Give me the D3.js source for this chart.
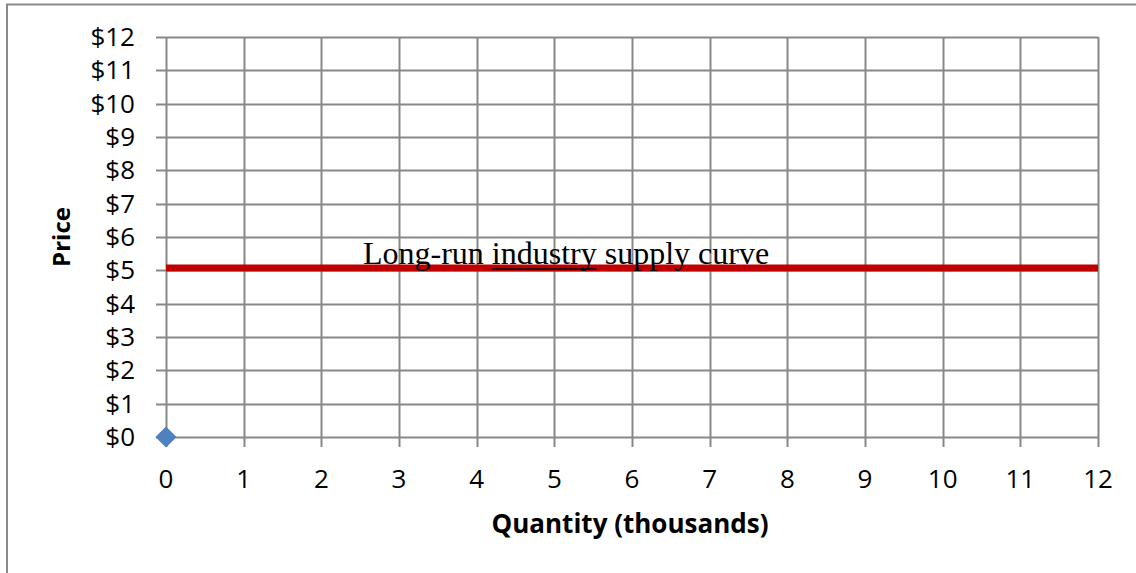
<!DOCTYPE html>
<html>
<head>
<meta charset="utf-8">
<script src="https://cdn.jsdelivr.net/npm/d3@7"></script>
<style>
  html, body { margin: 0; padding: 0; background: #fff; }
  svg { display: block; }
</style>
</head>
<body>
<div id="chart"></div>
<script>
// Axis ticks
const xTicks = [0, 1, 2, 3, 4, 5, 6, 7, 8, 9, 10, 11, 12];
const yTicks = [0, 1, 2, 3, 4, 5, 6, 7, 8, 9, 10, 11, 12];

// Single marker series
const pointQty = [0];
const pointPrice = [0];

// Long-run industry supply (horizontal)
const supplyQty = [0, 12];
const supplyPrice = [5.07, 5.07];

const labelParts = ["Long-run ", "industry", " supply curve"];

const W = 1136, H = 573;
const margin = { left: 166, right: 38, top: 37, bottom: 136 };

const svg = d3.select("#chart").append("svg")
  .attr("width", W).attr("height", H);

// Chart frame (left and top edges visible)
svg.append("path")
  .attr("d", `M7,${H} L7,4.5 L${W},4.5`)
  .attr("fill", "none").attr("stroke", "#898989").attr("stroke-width", 2);

const x = d3.scaleLinear().domain([0, 12]).range([margin.left, W - margin.right]);
const y = d3.scaleLinear().domain([0, 12]).range([H - margin.bottom, margin.top]);

const gridColor = "#888888";
const font = "'Open Sans', sans-serif";

// Vertical gridlines, extending below the axis as tick marks
svg.append("g").selectAll("line").data(xTicks).join("line")
  .attr("x1", d => Math.round(x(d)) + 0.5).attr("x2", d => Math.round(x(d)) + 0.5)
  .attr("y1", y(12)).attr("y2", y(0) + 10)
  .attr("stroke", gridColor).attr("stroke-width", 2);

// Horizontal gridlines, extending left of the axis as tick marks
svg.append("g").selectAll("line").data(yTicks).join("line")
  .attr("x1", x(0) - 10).attr("x2", x(12))
  .attr("y1", d => Math.round(y(d)) + 0.5).attr("y2", d => Math.round(y(d)) + 0.5)
  .attr("stroke", gridColor).attr("stroke-width", 2);

// Y tick labels
svg.append("g").selectAll("text").data(yTicks).join("text")
  .attr("x", 135).attr("y", d => y(d) + 9)
  .attr("text-anchor", "end")
  .attr("font-family", font).attr("font-size", 26).attr("fill", "#000")
  .text(d => "$" + d);

// X tick labels
svg.append("g").selectAll("text").data(xTicks).join("text")
  .attr("x", d => x(d)).attr("y", 488)
  .attr("text-anchor", "middle")
  .attr("font-family", font).attr("font-size", 26).attr("fill", "#000")
  .text(d => d);

// Axis titles
svg.append("text")
  .attr("x", 630).attr("y", 533)
  .attr("text-anchor", "middle")
  .attr("font-family", font).attr("font-size", 26).attr("font-weight", "bold")
  .text("Quantity (thousands)");

svg.append("text")
  .attr("transform", `translate(70,237) rotate(-90)`)
  .attr("text-anchor", "middle")
  .attr("font-family", font).attr("font-size", 24).attr("font-weight", "bold")
  .text("Price");

// Supply line
const line = d3.line().x(d => x(d[0])).y(d => y(d[1]));
svg.append("path")
  .datum(d3.zip(supplyQty, supplyPrice))
  .attr("d", line)
  .attr("fill", "none").attr("stroke", "#C00000").attr("stroke-width", 7);

// Diamond marker
svg.append("g").selectAll("path").data(d3.zip(pointQty, pointPrice)).join("path")
  .attr("transform", d => `translate(${x(d[0])},${y(d[1])}) rotate(45)`)
  .attr("d", "M-7.5,-7.5 L7.5,-7.5 L7.5,7.5 L-7.5,7.5 Z")
  .attr("fill", "#4F81BD");

// Annotation with underlined word
const annX = 363, annY = 264;
const ann = svg.append("text")
  .attr("x", annX).attr("y", annY)
  .attr("font-family", "'Liberation Serif', 'Times New Roman', serif")
  .attr("font-size", 32).attr("fill", "#000")
  .style("white-space", "pre")
  .text(labelParts.join(""));

const node = ann.node();
const start = labelParts[0].length;
const ux0 = annX + node.getSubStringLength(0, start);
const uw = node.getSubStringLength(start, labelParts[1].length);
svg.append("line")
  .attr("x1", ux0).attr("x2", ux0 + uw)
  .attr("y1", annY + 5).attr("y2", annY + 5)
  .attr("stroke", "#000").attr("stroke-width", 1.6);
</script>
</body>
</html>
